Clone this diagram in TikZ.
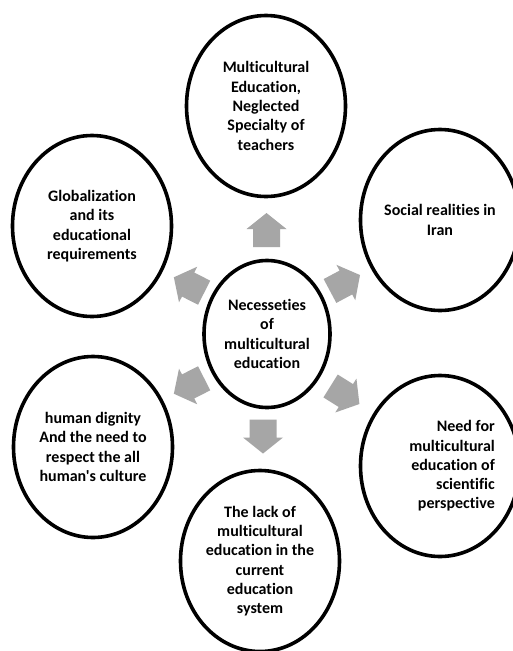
\documentclass[tikz,border=0pt]{standalone}
\usepackage{fontspec}
\setmainfont{Carlito}[Ligatures={TeXOff,NoCommon,NoContextual}]
\usetikzlibrary{shapes.geometric}
\definecolor{arrowgray}{HTML}{A6A6A6}
\tikzset{
  bubble/.style={ellipse, draw=black, line width=3.6pt, minimum width=159pt, minimum height=181pt, inner sep=0pt, align=center,
    font=\fontsize{16}{19.3}\selectfont\bfseries},
  hub/.style={bubble, minimum width=126pt, minimum height=147pt},
  txt/.style={inner sep=0pt, font=\fontsize{16}{19.3}\selectfont\bfseries},
  pics/barrow/.style={code={
    \fill[arrowgray] (-17,-13.5) -- (1,-13.5) -- (1,-20) -- (17,0) -- (1,20) -- (1,13.5) -- (-17,13.5) -- cycle;
  }}
}
\begin{document}
\begin{tikzpicture}[x=1pt,y=-1pt]
\useasboundingbox[fill=white] (0,0) rectangle (512,651);
\node[hub] (hub) at (267,334) {Necesseties\\of\\multicultural\\education};
\node[bubble] (top) at (266,106) {Multicultural\\Education,\\Neglected\\Specialty of\\teachers};
\node[bubble] (glob) at (92,226) {Globalization\\and its\\educational\\requirements};
\node[bubble] (soc) at (440,220) {Social realities in\\Iran};
\node[bubble] (hum) at (93,447) {human dignity\\And the need to\\respect the all\\human's culture};
\node[bubble] (need) at (440,466) {};
\node[txt, align=right, anchor=east] (needtext) at ([xshift=55pt]need.center) {Need for\\multicultural\\education of\\scientific\\perspective};
\node[bubble] (lack) at (260,561) {The lack of\\multicultural\\education in the\\current\\education\\system};
\pic[rotate=90] (a1) at (266.5,230) {barrow};
\pic[rotate=-90] (a2) at (263,436.5) {barrow};
\pic[rotate=153] (a3) at (189,285) {barrow};
\pic[rotate=28] (a4) at (345,283) {barrow};
\pic[rotate=207] (a5) at (189,386) {barrow};
\pic[rotate=-32] (a6) at (345,395) {barrow};
\end{tikzpicture}
\end{document}
